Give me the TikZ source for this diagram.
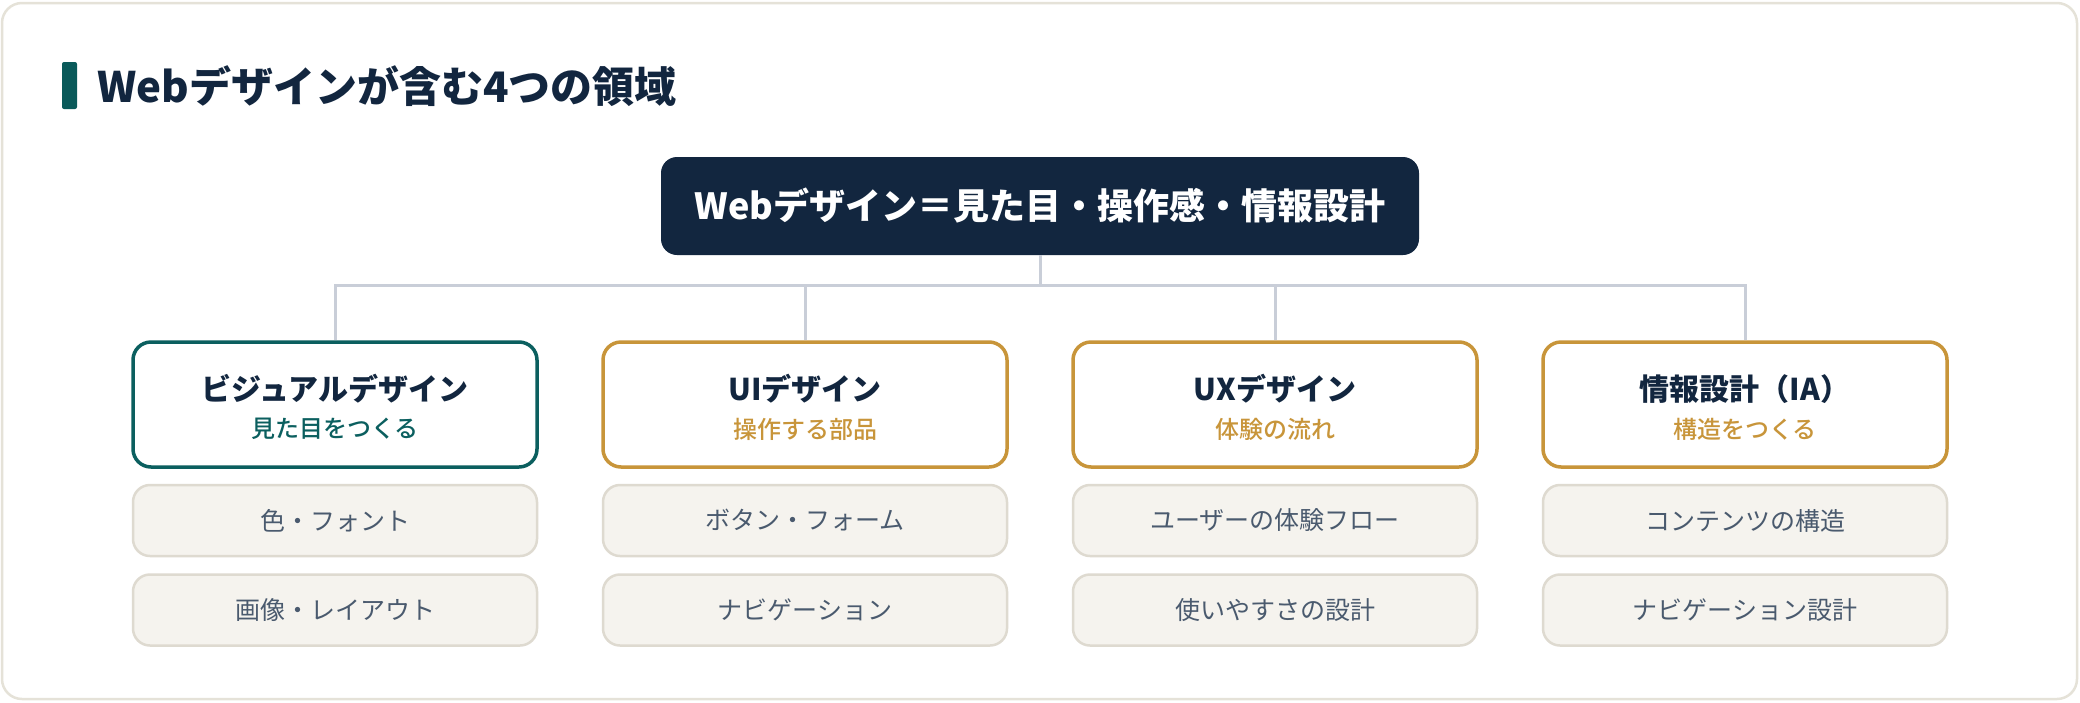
\documentclass[tikz,border=0pt]{standalone}
\usepackage{fontspec}
\setmainfont{Noto Sans CJK JP}
\newfontfamily\medfont{Noto Sans CJK JP Medium}
\usetikzlibrary{positioning}
\definecolor{navy}{HTML}{12263F}
\definecolor{teal}{HTML}{0B5F5F}
\definecolor{gold}{HTML}{C8953A}
\definecolor{linkgray}{HTML}{C9CED8}
\definecolor{cardborder}{HTML}{E5E2D8}
\definecolor{itemfill}{HTML}{F5F3EE}
\definecolor{itemborder}{HTML}{DEDAD0}
\definecolor{itemtext}{HTML}{4A5A6E}
\tikzset{
  catbox/.style={draw, line width=3.5pt, fill=white, rounded corners=18pt, minimum width=404pt, minimum height=125pt, inner sep=0pt},
  itembox/.style={draw=itemborder, line width=2.5pt, fill=itemfill, rounded corners=17pt, minimum width=404pt, minimum height=71pt, inner sep=0pt, text=itemtext, font=\fontsize{25}{29}\selectfont},
  cattitle/.style={text=navy, font=\bfseries\fontsize{30}{34}\selectfont, inner sep=0pt},
  catsub/.style={font=\medfont\fontsize{24}{28}\selectfont, inner sep=0pt},
  link/.style={draw=linkgray, line width=3pt}
}
\begin{document}
\begin{tikzpicture}[x=1pt,y=-1pt]
\useasboundingbox (0,0) rectangle (2080,702);
\draw[draw=cardborder, line width=2.5pt, fill=white, rounded corners=20pt] (2,3) rectangle (2077,699);
% heading
\fill[teal!95!black, rounded corners=2pt] (62,62) rectangle (77,109);
\node[anchor=west, text=navy, font=\bfseries\fontsize{42}{48}\selectfont, inner sep=0pt] (heading) at (97,86) {Webデザインが含む4つの領域};
% top node
\node[fill=navy, rounded corners=16pt, minimum width=758pt, minimum height=98pt, text=white, font=\bfseries\fontsize{36}{42}\selectfont, inner sep=0pt] (top) at (1040,206) {Webデザイン＝見た目・操作感・情報設計};
\coordinate (hub) at (1040,285);
% categories
\node[catbox, draw=teal] (c1) at (335,404.5) {};
\node[catbox, draw=gold] (c2) at (805,404.5) {};
\node[catbox, draw=gold] (c3) at (1275,404.5) {};
\node[catbox, draw=gold] (c4) at (1745,404.5) {};
\node[cattitle] (c1t) at (335,389) {ビジュアルデザイン};
\node[catsub, text=teal] (c1s) at (335,429) {見た目をつくる};
\node[cattitle] (c2t) at (805,389) {UIデザイン};
\node[catsub, text=gold] (c2s) at (805,429) {操作する部品};
\node[cattitle] (c3t) at (1275,389) {UXデザイン};
\node[catsub, text=gold] (c3s) at (1275,429) {体験の流れ};
\node[cattitle] (c4t) at (1745,389) {情報設計（IA）};
\node[catsub, text=gold] (c4s) at (1745,429) {構造をつくる};
% connectors
\draw[link] (top.south) -- (hub);
\draw[link] (hub) -| (c1.north);
\draw[link] (hub) -| (c2.north);
\draw[link] (hub) -| (c3.north);
\draw[link] (hub) -| (c4.north);
% items
\node[itembox] (i11) at (335,520.5) {色・フォント};
\node[itembox] (i12) at (335,610) {画像・レイアウト};
\node[itembox] (i21) at (805,520.5) {ボタン・フォーム};
\node[itembox] (i22) at (805,610) {ナビゲーション};
\node[itembox] (i31) at (1275,520.5) {ユーザーの体験フロー};
\node[itembox] (i32) at (1275,610) {使いやすさの設計};
\node[itembox] (i41) at (1745,520.5) {コンテンツの構造};
\node[itembox] (i42) at (1745,610) {ナビゲーション設計};
\end{tikzpicture}
\end{document}
